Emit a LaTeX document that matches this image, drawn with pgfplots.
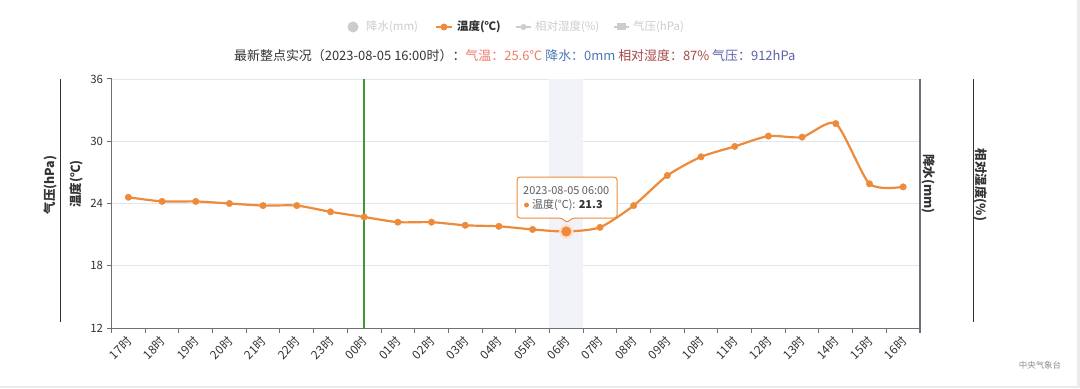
\documentclass[border=0pt]{standalone}
\usepackage{fontspec}
\setmainfont{Noto Sans CJK SC}
\usepackage{pgfplots}
\pgfplotsset{compat=1.18}
\definecolor{tempc}{HTML}{EE8B3A}
\definecolor{gridc}{HTML}{E0E6F1}
\definecolor{axisc}{HTML}{6E7079}
\definecolor{greenc}{HTML}{3C9A2E}
\definecolor{bandc}{HTML}{F2F3F8}
\definecolor{txtc}{HTML}{333333}
\definecolor{legoff}{HTML}{CCCCCC}
\definecolor{sub1}{HTML}{EE7B6A}
\definecolor{sub2}{HTML}{4A78B5}
\definecolor{sub3}{HTML}{A84848}
\definecolor{sub4}{HTML}{5B62A8}
\begin{document}
\begin{tikzpicture}[x=1bp,y=1bp]
\useasboundingbox (0,0) rectangle (1080,388);
\fill[white] (0,0) rectangle (1080,388);
\begin{axis}[
  at={(111.5bp,60bp)}, anchor=south west, scale only axis,
  width=808.5bp, height=249bp,
  xmin=0, xmax=24, ymin=12, ymax=36,
  axis lines=left, axis line style={-, axisc, line width=1bp},
  tick align=outside,
  xtick={0.5,1.5,...,23.5},
  xticklabels={17时,18时,19时,20时,21时,22时,23时,00时,01时,02时,03时,04时,05时,06时,07时,08时,09时,10时,11时,12时,13时,14时,15时,16时},
  minor xtick={0,1,...,24},
  major x tick style={draw=none},
  minor tick length=5bp,
  major tick length=5bp,
  ytick={12,18,24,30,36},
  ymajorgrids, major grid style={gridc, line width=0.8bp},
  tick style={axisc, line width=1bp},
  ticklabel style={font=\fontsize{11.5}{13}\selectfont, text=txtc},
  /pgf/number format/assume math mode=true,
  xticklabel style={font=\fontsize{12}{13}\selectfont, rotate=45, anchor=east, xshift=0bp, yshift=-5bp},
  clip=false,
]
\fill[bandc] (axis cs:13,12) rectangle (axis cs:14,36);
\draw[greenc, line width=1.5bp] (axis cs:7.5,12) -- (axis cs:7.5,36);
\addplot[tempc, line width=2.2bp, smooth, tension=0.4, mark=*, mark size=3.2bp, mark options={fill=tempc, draw=tempc, line width=0.5bp}] coordinates {
(0.5,24.6) (1.5,24.2) (2.5,24.2) (3.5,24.0) (4.5,23.8) (5.5,23.8) (6.5,23.2) (7.5,22.7)
(8.5,22.2) (9.5,22.2) (10.5,21.9) (11.5,21.8) (12.5,21.5) (13.5,21.3) (14.5,21.7) (15.5,23.8)
(16.5,26.7) (17.5,28.5) (18.5,29.5) (19.5,30.5) (20.5,30.4) (21.5,31.7) (22.5,25.9) (23.5,25.6)
};
\addplot[only marks, color=tempc!25, mark=*, mark size=7bp] coordinates {(13.5,21.3)};
\addplot[only marks, color=tempc, mark=*, mark size=4.8bp] coordinates {(13.5,21.3)};
\end{axis}
% right axis
\draw[axisc, line width=1.5bp] (920,309) -- (920,55);
% outer axis lines
\draw[txtc, line width=1bp] (60,309) -- (60,66);
\draw[txtc, line width=1bp] (973,309) -- (973,66);
% axis names
\node[rotate=90, font=\fontsize{12.5}{14}\selectfont\bfseries, text=txtc] at (50,203) {气压(hPa)};
\node[rotate=90, font=\fontsize{12.5}{14}\selectfont\bfseries, text=txtc] at (76,204) {温度(℃)};
\node[rotate=-90, font=\fontsize{12.5}{14}\selectfont\bfseries, text=txtc] at (929,204) {降水(mm)};
\node[rotate=-90, font=\fontsize{12.5}{14}\selectfont\bfseries, text=txtc] at (981,203) {相对湿度(\%)};
% legend
\begin{scope}[font=\fontsize{11.5}{13}\selectfont]
\fill[legoff] (353,361) circle (5.5);
\node[anchor=west, text=legoff, inner sep=0] at (366,361) {降水(mm)};
\draw[tempc, line width=2bp] (436,361) -- (452,361);
\fill[tempc] (444,361) circle (3.5);
\node[anchor=west, text=txtc, inner sep=0] at (457,361) {\bfseries 温度(℃)};
\draw[legoff, line width=2bp] (516,361) -- (531,361);
\fill[legoff] (523.5,361) circle (3);
\node[anchor=west, text=legoff, inner sep=0] at (535,361) {相对湿度(\%)};
\draw[legoff, line width=2bp] (614,361) -- (629,361);
\fill[legoff] (617,357.5) rectangle (626,364.5);
\node[anchor=west, text=legoff, inner sep=0] at (633,361) {气压(hPa)};
\end{scope}
% subtitle
\node[anchor=west, inner sep=0, font=\fontsize{13}{15}\selectfont] at (234,332) {\textcolor{txtc}{最新整点实况（2023-08-05 16:00时）：}\textcolor{sub1}{气温：25.6℃} \textcolor{sub2}{降水：0mm} \textcolor{sub3}{相对湿度：87\%} \textcolor{sub4}{气压：912hPa}};
% tooltip
\draw[tempc, line width=1bp, fill=white, rounded corners=3bp] (517,170) -- (562,170) -- (567,165) -- (572,170) -- (617,170) -- (617,211) -- (517,211) -- cycle;
\node[anchor=west, inner sep=0, font=\fontsize{11}{13}\selectfont, text=txtc!80] at (523,197) {2023-08-05 06:00};
\fill[tempc] (526.5,183) circle (2.5);
\node[anchor=west, inner sep=0, font=\fontsize{11}{13}\selectfont, text=txtc!80] at (532,183) {温度(℃): \textbf{\textcolor{txtc}{21.3}}};
% footer
\node[font=\fontsize{8.5}{10}\selectfont, text=axisc!80] at (1040,23) {中央气象台};
\fill[black!8] (0,0) rectangle (1080,2);
\fill[black!8] (1077,0) rectangle (1080,388);
\end{tikzpicture}
\end{document}
